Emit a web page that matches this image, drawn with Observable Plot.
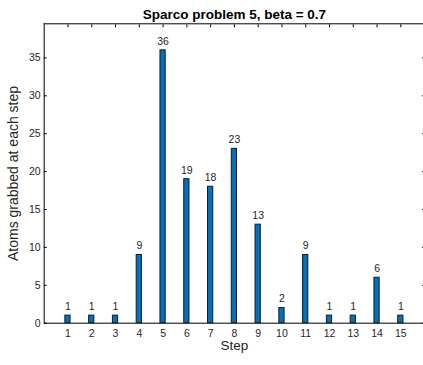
<!DOCTYPE html>
<html>
<head>
<meta charset="utf-8">
<script src="https://cdn.jsdelivr.net/npm/d3@7"></script>
<script src="https://cdn.jsdelivr.net/npm/@observablehq/plot@0.6"></script>
<style>
  html, body { margin: 0; padding: 0; background: #fff; }
  #chart svg { display: block; }
</style>
</head>
<body>
<div id="chart"></div>
<script>
const steps = [1, 2, 3, 4, 5, 6, 7, 8, 9, 10, 11, 12, 13, 14, 15];
const atoms = [1, 1, 1, 9, 36, 19, 18, 23, 13, 2, 9, 1, 1, 6, 1];
const yTicks = [0, 5, 10, 15, 20, 25, 30, 35];
const xTicks = steps;
const title = "Sparco problem 5, beta = 0.7";
const xLabel = "Step";
const yLabel = "Atoms grabbed at each step";

const data = steps.map((s, i) => ({step: s, count: atoms[i]}));
const halfBar = 0.11;
const ink = "#262626";

const chart = Plot.plot({
  width: 423,
  height: 365,
  marginLeft: 43.7,
  marginRight: -1.1,
  marginTop: 23.3,
  marginBottom: 42.3,
  style: {fontFamily: "'Liberation Sans', Arial, Helvetica, sans-serif", fontSize: "10px", color: ink, background: "#fff"},
  x: {domain: [0, 16], label: null},
  y: {domain: [0, 39.5], label: null},
  marks: [
    // frame lines
    Plot.ruleY([0], {stroke: "black", strokeWidth: 1}),
    Plot.ruleY([39.5], {stroke: "black", strokeWidth: 1}),
    Plot.ruleX([0], {stroke: "black", strokeWidth: 1}),
    Plot.ruleX([16], {stroke: "black", strokeWidth: 1}),
    // inward ticks
    Plot.axisY(yTicks, {anchor: "left", tickSize: 3, dx: 3, tickFormat: () => "", stroke: "black"}),
    Plot.axisY(yTicks, {anchor: "right", tickSize: 3, dx: -3, tickFormat: () => "", stroke: "black"}),
    Plot.axisX(xTicks, {anchor: "top", tickSize: 3, dy: 3, tickFormat: () => "", stroke: "black"}),
    Plot.axisX(xTicks, {anchor: "bottom", tickSize: 3, dy: -3, tickFormat: () => "", stroke: "black"}),
    // tick labels
    Plot.axisY(yTicks, {anchor: "left", tickSize: 0, tickPadding: 3.5, fill: ink, fontSize: 10.5}),
    Plot.axisX(xTicks, {anchor: "bottom", tickSize: 0, tickPadding: 6.5, fill: ink, fontSize: 10.5}),
    // bars
    Plot.rectY(data, {x1: d => d.step - halfBar, x2: d => d.step + halfBar, y: "count", fill: "#0072BD", stroke: "#1a1a1a", strokeWidth: 1}),
    Plot.text(data, {x: "step", y: "count", text: d => String(d.count), dy: -9, fill: ink, fontSize: 10.5}),
    // axis titles
    Plot.text([xLabel], {frameAnchor: "bottom", dy: 27, fill: ink, fontSize: 13.5}),
    Plot.text([yLabel], {frameAnchor: "left", textAnchor: "middle", dx: -30.7, rotate: -90, fill: ink, fontSize: 14}),
    Plot.text([title], {frameAnchor: "top", dy: -14.5, fontWeight: "bold", fill: "black", fontSize: 13.5})
  ]
});
document.getElementById("chart").appendChild(chart);
</script>
</body>
</html>
